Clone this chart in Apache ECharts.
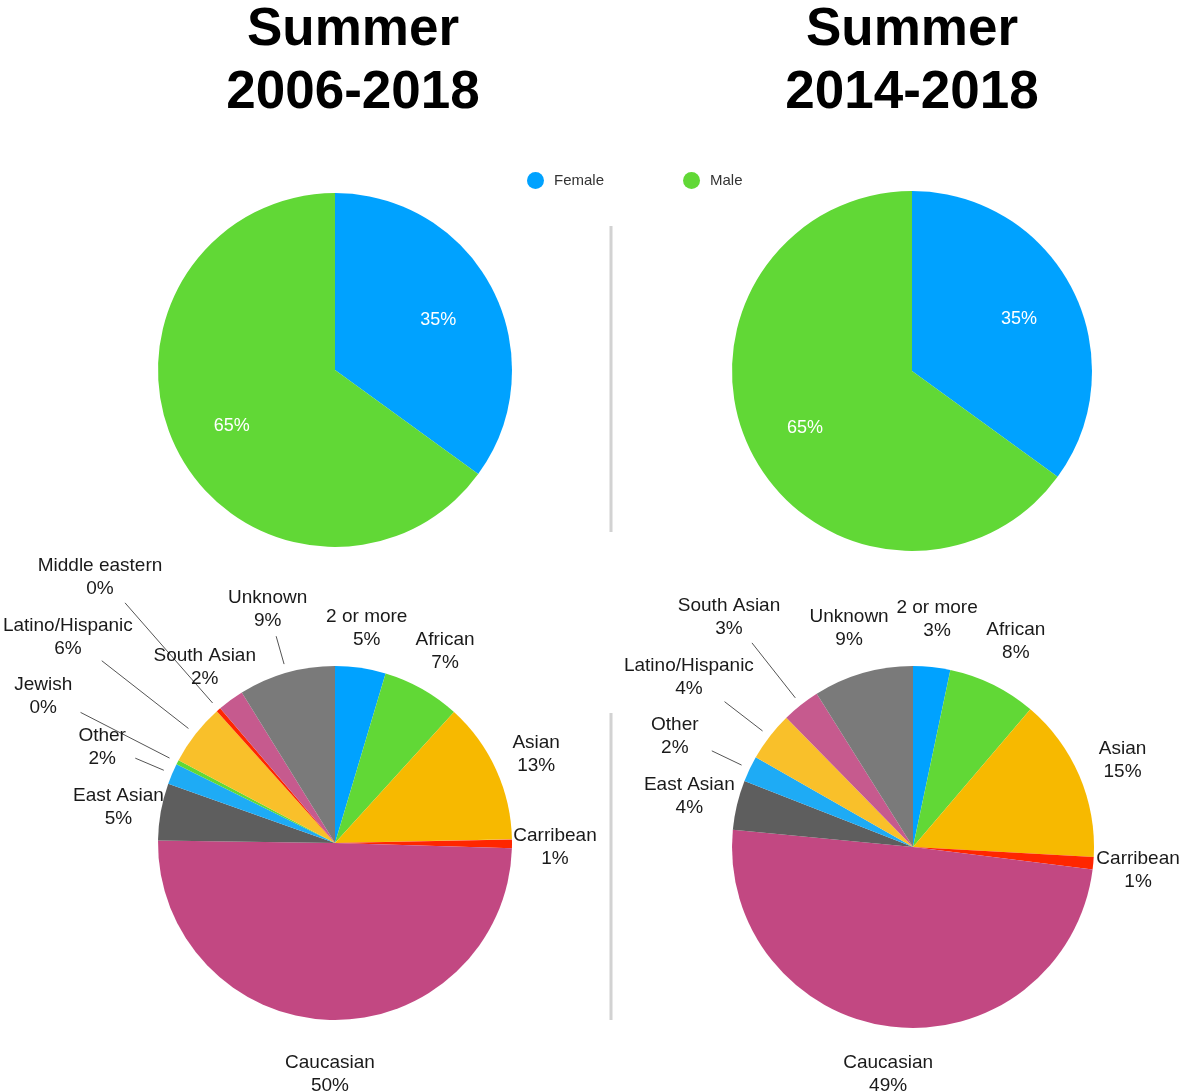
<!DOCTYPE html>
<html><head><meta charset="utf-8">
<script src="https://cdn.jsdelivr.net/npm/echarts@6/dist/echarts.min.js"></script>
<style>html,body{margin:0;padding:0;background:#fff}#c{width:1181px;height:1092px}</style>
</head><body><div id="c"></div>
<script>
// ---------- data ----------
const titles = ['Summer\n2006-2018', 'Summer\n2014-2018'];
const genderLabels = ['Female', 'Male'];
const gender2006 = [35, 65];
const gender2014 = [35, 65];
const eth2006Labels = ['2 or more', 'African', 'Asian', 'Carribean', 'Caucasian', 'East Asian', 'Other', 'Jewish', 'Latino/Hispanic', 'Middle eastern', 'South Asian', 'Unknown'];
const eth2006Values = [4.6, 7.1, 12.9, 0.8, 49.6, 5.2, 1.9, 0.4, 5.6, 0.4, 2.4, 8.8];
const eth2014Labels = ['2 or more', 'African', 'Asian', 'Carribean', 'Caucasian', 'East Asian', 'Other', 'Latino/Hispanic', 'South Asian', 'Unknown'];
const eth2014Values = [3.3, 7.9, 14.6, 1.1, 49.4, 4.4, 2.3, 4.4, 3.4, 8.9];

// ---------- styles ----------
const FONT = '"Liberation Sans", Arial, Helvetica, sans-serif';
const genderColors = {'Female': '#00A2FF', 'Male': '#61D836'};
const ethColors = {
  '2 or more': '#00A2FF', 'African': '#61D836', 'Asian': '#F7B900', 'Carribean': '#FF2600',
  'Caucasian': '#C24882', 'East Asian': '#5E5E5E', 'Other': '#1EABF5', 'Jewish': '#61D836',
  'Latino/Hispanic': '#F9C02A', 'Middle eastern': '#FF2600', 'South Asian': '#C65A8E', 'Unknown': '#7A7A7A'
};
// label distance beyond the rim (px) and leader-line end (0 = no line)
const labelOff2006 = [43, 47, 44, 43, 51, 43, 76, 151, 162, 180, 44, 69];
const lineEnd2006  = [0, 0, 0, 0, 0, 0, 40, 109, 119, 142, 0, 38];
const labelOff2014 = [51, 52, 47, 45, 45, 49, 83, 102, 116, 50];
const lineEnd2014  = [0, 0, 0, 0, 0, 0, 42, 57, 79, 0];
const LABEL_DY = 3;

function pieSeries(names, values, colors, cx, cy, r, offs, lineEnds, labelStyle, fmt) {
  return {
    type: 'pie', center: [cx, cy], radius: r, startAngle: 90, clockwise: true,
    avoidLabelOverlap: false, animation: false, silent: true,
    itemStyle: {borderWidth: 0},
    label: Object.assign({show: true, position: 'outside', formatter: fmt, fontFamily: FONT}, labelStyle),
    labelLine: {show: true, length: 10, length2: 0, lineStyle: {color: '#555', width: 1}},
    labelLayout: function (params) {
      const i = params.dataIndex;
      const pts = params.labelLinePoints;
      const p0 = [pts[0][0], pts[0][1]];
      let dx = pts[1][0] - p0[0], dy = pts[1][1] - p0[1];
      const L = Math.hypot(dx, dy) || 1; dx /= L; dy /= L;
      const off = offs[i];
      const res = {x: p0[0] + dx * off, y: p0[1] + dy * off + LABEL_DY, align: 'center', verticalAlign: 'middle'};
      const e = lineEnds[i];
      if (e > 0) {
        res.labelLinePoints = [[p0[0] + dx * 9, p0[1] + dy * 9], [p0[0] + dx * e, p0[1] + dy * e], [p0[0] + dx * e, p0[1] + dy * e]];
      } else {
        res.labelLinePoints = [[p0[0], p0[1]], [p0[0], p0[1]], [p0[0], p0[1]]];
      }
      return res;
    },
    data: names.map((n, i) => ({name: n, value: values[i], itemStyle: {color: colors[n]}}))
  };
}

const genderFmt = p => Math.round(p.percent) + '%';
const ethFmt = p => p.name + '\n' + Math.round(p.value) + '%';
const genderLabelStyle = {color: '#fff', fontSize: 18};
const ethLabelStyle = {color: '#1a1a1a', fontSize: 19, lineHeight: 23};

const chart = echarts.init(document.getElementById('c'), null, {renderer: 'canvas'});
chart.setOption({
  backgroundColor: '#fff',
  animation: false,
  legend: {
    data: genderLabels, left: 522, top: 167, icon: 'circle', itemWidth: 27, itemHeight: 17, itemGap: 79,
    selectedMode: false, textStyle: {fontSize: 15, color: '#333', fontFamily: FONT}
  },
  graphic: [
    {type: 'text', x: 353, y: 62, style: {text: titles[0], font: 'bold 53px ' + FONT, fill: '#000', align: 'center', verticalAlign: 'middle', lineHeight: 63}},
    {type: 'text', x: 912, y: 62, style: {text: titles[1], font: 'bold 53px ' + FONT, fill: '#000', align: 'center', verticalAlign: 'middle', lineHeight: 63}},
    {type: 'line', shape: {x1: 611, y1: 226, x2: 611, y2: 532}, style: {stroke: '#d2d2d2', lineWidth: 3}},
    {type: 'line', shape: {x1: 611, y1: 713, x2: 611, y2: 1020}, style: {stroke: '#d2d2d2', lineWidth: 3}}
  ],
  series: [
    pieSeries(genderLabels, gender2006, genderColors, 335, 370, 177, [-61, -61], [0, 0], genderLabelStyle, genderFmt),
    pieSeries(genderLabels, gender2014, genderColors, 912, 371, 180, [-60, -60], [0, 0], genderLabelStyle, genderFmt),
    pieSeries(eth2006Labels, eth2006Values, ethColors, 335, 843, 177, labelOff2006, lineEnd2006, ethLabelStyle, ethFmt),
    pieSeries(eth2014Labels, eth2014Values, ethColors, 913, 847, 181, labelOff2014, lineEnd2014, ethLabelStyle, ethFmt)
  ]
});
</script>
</body></html>
